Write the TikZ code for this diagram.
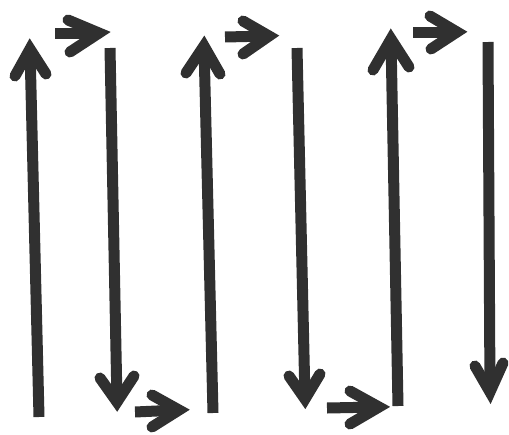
\documentclass[tikz,border=0pt]{standalone}
\begin{document}
\begin{tikzpicture}[x=1pt,y=-1pt,
  shaft/.style={draw=arrowgray,line width=11pt,line cap=butt},
  barb/.style={draw=arrowgray,line width=11pt,line cap=round,line join=miter,miter limit=10}]
\definecolor{arrowgray}{RGB}{48,48,48}
\useasboundingbox (0,0) rectangle (509,434);
\newcommand\zzarrow[5]{%
  \coordinate (#1-tail) at #2;
  \coordinate (#1-tip) at #3;
  \coordinate (#1-b1) at #4;
  \coordinate (#1-b2) at #5;
  \draw[shaft] (#1-tail) -- (#1-tip);
  \draw[barb] (#1-b1) -- (#1-tip) -- (#1-b2);}
% up arrows
\zzarrow{up1}{(39,417)}{(30,49)}{(15,76)}{(46,74)}
\zzarrow{up2}{(213,413)}{(204,46)}{(186,73)}{(220,74)}
\zzarrow{up3}{(398,406)}{(391,39)}{(373,70)}{(409,67)}
% down arrows
\zzarrow{dn1}{(110,48)}{(117,402)}{(100,378)}{(134,376)}
\zzarrow{dn2}{(297,48)}{(305,399)}{(289,376)}{(320,374)}
\zzarrow{dn3}{(488,42)}{(490,392)}{(475,366)}{(503,363)}
% top right arrows
\zzarrow{rt1}{(55,33)}{(99,33)}{(68,20)}{(70,52)}
\zzarrow{rt2}{(225,37)}{(269,36)}{(243,21)}{(243,54)}
\zzarrow{rt3}{(413,32)}{(457,32)}{(430,16)}{(431,49)}
% bottom right arrows
\zzarrow{rb1}{(135,412)}{(179,410)}{(152,395)}{(152,427)}
\zzarrow{rb2}{(327,408)}{(379,407)}{(350,391)}{(350,424)}
\end{tikzpicture}
\end{document}
